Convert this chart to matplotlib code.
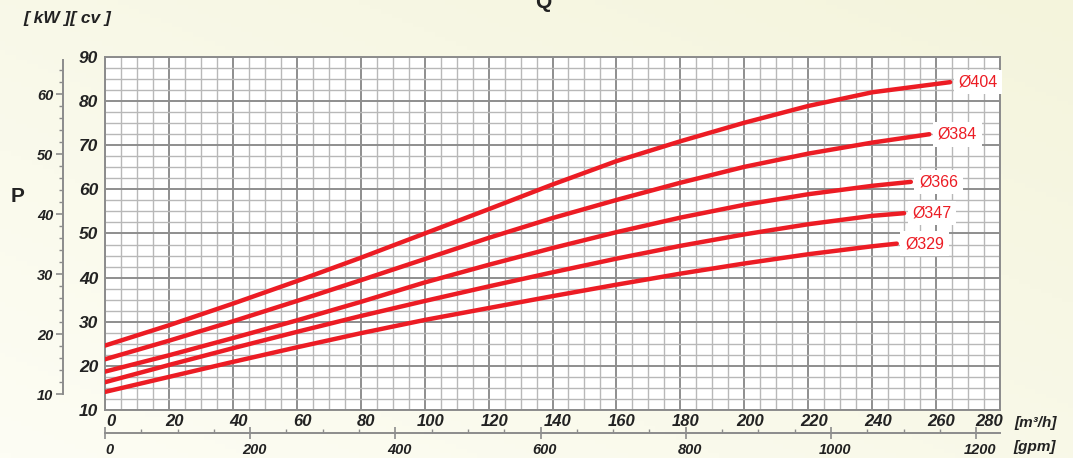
import numpy as np
import matplotlib.pyplot as plt
import matplotlib.transforms as mtransforms
from matplotlib.colors import LinearSegmentedColormap
from matplotlib.ticker import MultipleLocator, FixedLocator

plt.rcParams['font.family'] = ['Liberation Sans', 'DejaVu Sans']

BG = "#F8F8E6"
RED = "#EC1C24"
TXT = "#222222"
AXC = "#8C8C8C"

# flow [m3/h]
q = [0, 20, 40, 60, 80, 100, 120, 140, 160, 180, 200, 220, 240]

# absorbed power [cv] per impeller diameter
p404 = [24.6, 29.2, 34.1, 39.2, 44.5, 50.0, 55.5, 61.1, 66.4, 70.9, 75.1, 78.9, 82.0]
p384 = [21.5, 25.7, 30.1, 34.7, 39.4, 44.2, 49.0, 53.5, 57.6, 61.5, 65.1, 68.1, 70.6]
p366 = [18.7, 22.4, 26.3, 30.3, 34.5, 38.9, 42.9, 46.7, 50.3, 53.6, 56.5, 58.9, 60.8]
p347 = [16.3, 20.2, 24.0, 27.7, 31.3, 34.7, 38.0, 41.2, 44.3, 47.2, 49.8, 52.1, 54.0]
p329 = [14.1, 17.5, 20.9, 24.2, 27.4, 30.4, 33.1, 35.8, 38.4, 40.9, 43.2, 45.3, 47.1]

# last point of each curve (flow, power)
q_end = [264.4, 257.9, 252.1, 250.0, 247.7]
p_end = [84.3, 72.5, 61.7, 54.6, 47.7]
names = ["Ø404", "Ø384", "Ø366", "Ø347", "Ø329"]
curves = [p404, p384, p366, p347, p329]

q_ticks = list(range(0, 281, 20))
cv_ticks = list(range(10, 91, 10))
kw_ticks = [10, 20, 30, 40, 50, 60]
gpm_ticks = [0, 200, 400, 600, 800, 1000, 1200]

CV_PER_KW = 1.36
GPM_PER_M3H = 4.403

lab_kw = dict(fontweight="bold", fontstyle="italic", color=TXT)

fig = plt.figure(figsize=(10.73, 4.58), dpi=100)
fig.patch.set_facecolor(BG)

# soft background gradient
bg = fig.add_axes([0, 0, 1, 1], zorder=-10)
gx, gy = np.meshgrid(np.linspace(0, 1, 200), np.linspace(0, 1, 100))
bg.imshow(0.5 * gx + 0.5 * (1 - gy),
          cmap=LinearSegmentedColormap.from_list("bgc", ["#FDFDF4", "#F4F4DC"]),
          aspect="auto", extent=[0, 1, 0, 1])
bg.axis("off")

ax = fig.add_axes([105 / 1073, 1 - 410 / 458, 895 / 1073, 353 / 458])
ax.set_facecolor("white")
ax.set_xlim(0, 280)
ax.set_ylim(10, 90)
ax.set_xticks(q_ticks, [str(v) for v in q_ticks], fontsize=12, **lab_kw)
ax.set_yticks(cv_ticks, [str(v) for v in cv_ticks], fontsize=12.5, **lab_kw)
ax.xaxis.set_minor_locator(MultipleLocator(5))
ax.yaxis.set_minor_locator(MultipleLocator(2.5))
ax.grid(which="minor", color="#B8B8B8", lw=1.0)
ax.grid(which="major", color="#8E8E8E", lw=1.4)
ax.set_axisbelow(True)
for s in ax.spines.values():
    s.set_edgecolor(AXC)
    s.set_linewidth(1.4)
ax.tick_params(which="both", length=0)
ax.tick_params(axis="x", pad=3)
ax.tick_params(axis="y", pad=5)

# italic labels sit a little right of their grid line; last one pulled in
xlabs = ax.get_xticklabels()
for i, lab in enumerate(xlabs):
    dx = -8 / 72 if i == len(xlabs) - 1 else 4 / 72
    lab.set_transform(lab.get_transform() +
                      mtransforms.ScaledTranslation(dx, 0, fig.dpi_scale_trans))

for name, vals, xe, ye in zip(names, curves, q_end, p_end):
    ax.plot(q + [xe], vals + [ye], color=RED, lw=3.2, solid_capstyle="round",
            solid_joinstyle="round", zorder=3)
    ax.text(xe + 2.6, ye, name, color=RED, fontsize=11.5, va="center", ha="left",
            bbox=dict(boxstyle="square,pad=0.3", fc="white", ec="none"), zorder=4)

# kW axis
axk = ax.secondary_yaxis(-0.047, functions=(lambda c: c / CV_PER_KW,
                                             lambda k: k * CV_PER_KW))
axk.set_yticks(kw_ticks, [str(v) for v in kw_ticks], fontsize=10.5, **lab_kw)
axk.yaxis.set_minor_locator(FixedLocator(np.arange(12, 66, 2)))
axk.spines["left"].set_bounds(10, 65.6)
axk.spines["left"].set_edgecolor(AXC)
axk.spines["left"].set_linewidth(1.4)
axk.tick_params(which="major", length=5, color=AXC, width=1.2, pad=2)
axk.tick_params(which="minor", length=3, color=AXC, width=1.0)

# gpm axis
axg = ax.secondary_xaxis(-0.065, functions=(lambda m: m * GPM_PER_M3H,
                                             lambda g: g / GPM_PER_M3H))
axg.set_xticks(gpm_ticks, [str(v) for v in gpm_ticks], fontsize=10.5, **lab_kw)
axg.xaxis.set_minor_locator(MultipleLocator(50))
axg.spines["bottom"].set_edgecolor(AXC)
axg.spines["bottom"].set_linewidth(1.4)
axg.tick_params(which="major", direction="inout", length=8, color=AXC,
                width=1.2, pad=3)
axg.tick_params(which="minor", direction="in", length=3, color=AXC, width=1.0)
for lab in axg.get_xticklabels():
    lab.set_transform(lab.get_transform() +
                      mtransforms.ScaledTranslation(3 / 72, 0, fig.dpi_scale_trans))

fig.text(1014 / 1073, 1 - 423 / 458, "[m³/h]", fontsize=11, **lab_kw,
         va="center", ha="left")
fig.text(1013 / 1073, 1 - 447 / 458, "[gpm]", fontsize=11, **lab_kw,
         va="center", ha="left")
fig.text(23 / 1073, 1 - 18 / 458, "[ kW ][ cv ]", fontsize=12.5, **lab_kw,
         va="center", ha="left")
fig.text(18 / 1073, 1 - 197 / 458, "P", fontsize=15, fontweight="bold",
         color=TXT, va="center", ha="center")
fig.text(543 / 1073, 1 - 3 / 458, "Q", fontsize=15, fontweight="bold",
         color=TXT, va="center", ha="center")

fig.savefig("out.png", dpi=100, facecolor=BG)
